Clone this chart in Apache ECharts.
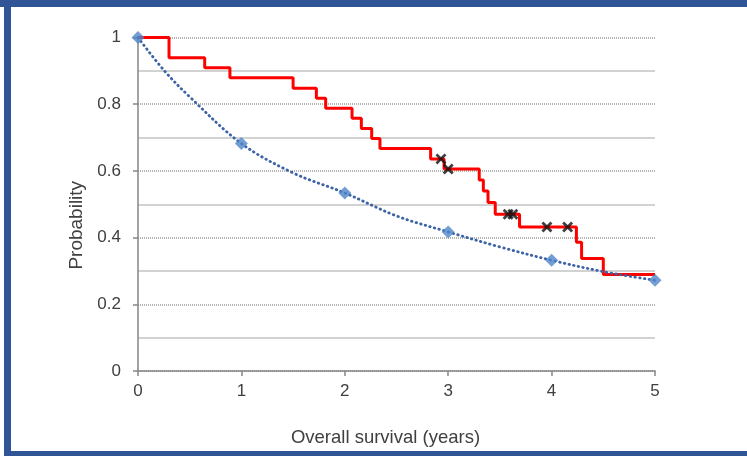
<!DOCTYPE html>
<html>
<head>
<meta charset="utf-8">
<script src="https://cdn.jsdelivr.net/npm/echarts@6/dist/echarts.min.js"></script>
<style>
  html, body { margin: 0; padding: 0; background: #ffffff; }
  #chart { width: 747px; height: 456px; }
</style>
</head>
<body>
<div id="chart"></div>
<script>
// Kaplan-Meier step curve (time in years, survival probability after each step)
const kmTimes = [0, 0.30, 0.645, 0.889, 1.50, 1.725, 1.815, 2.07, 2.16, 2.26, 2.34, 2.83, 2.96, 3.30, 3.34, 3.385, 3.455, 3.69, 4.24, 4.29, 4.50, 5.0];
const kmSurv  = [1.0, 0.939, 0.909, 0.879, 0.848, 0.818, 0.788, 0.758, 0.727, 0.697, 0.667, 0.636, 0.606, 0.573, 0.540, 0.505, 0.470, 0.432, 0.386, 0.337, 0.289, 0.289];

// Censored observations
const censorTimes = [2.93, 3.00, 3.58, 3.625, 3.955, 4.155];
const censorSurv  = [0.636, 0.606, 0.470, 0.470, 0.432, 0.432];

// Yearly estimates (diamonds)
const yearX = [0, 1, 2, 3, 4, 5];
const yearY = [1.0, 0.682, 0.534, 0.417, 0.332, 0.272];

// Dotted trend curve
const trendX = [0, 0.25, 0.5, 1, 1.5, 2, 2.5, 3, 3.5, 4, 4.5, 5];
const trendY = [1.0, 0.902, 0.822, 0.682, 0.594, 0.534, 0.465, 0.417, 0.372, 0.332, 0.298, 0.272];

// Tick labels
const xTicks = [0, 1, 2, 3, 4, 5];
const yTicks = [0, 0.2, 0.4, 0.6, 0.8, 1];

const pair = (xs, ys) => xs.map((x, i) => [x, ys[i]]);

const chart = echarts.init(document.getElementById('chart'), null, { renderer: 'canvas' });
const labelFont = 'Liberation Sans, Arial, sans-serif';

chart.setOption({
  backgroundColor: '#ffffff',
  animation: false,
  graphic: [
    { type: 'rect', shape: { x: 0, y: 0, width: 747, height: 7 }, style: { fill: '#2f5597' }, z: 100 },
    { type: 'rect', shape: { x: 4, y: 0, width: 7, height: 456 }, style: { fill: '#2f5597' }, z: 100 },
    { type: 'rect', shape: { x: 4, y: 451, width: 743, height: 5 }, style: { fill: '#2f5597' }, z: 100 }
  ],
  grid: { left: 138, right: 92, top: 37.5, bottom: 85, containLabel: false },
  xAxis: {
    type: 'value',
    min: xTicks[0],
    max: xTicks[xTicks.length - 1],
    interval: 1,
    name: 'Overall survival (years)',
    nameLocation: 'middle',
    nameGap: 57,
    nameTextStyle: { fontFamily: labelFont, fontSize: 18.5, color: '#404040', padding: [0, 22, 0, 0] },
    axisLine: { show: true, onZero: false, lineStyle: { color: '#868686', width: 1.5 } },
    axisTick: { show: true, inside: false, length: 5, lineStyle: { color: '#868686', width: 1.5 } },
    axisLabel: { fontFamily: labelFont, fontSize: 17, color: '#404040', margin: 12 },
    splitLine: { show: false }
  },
  yAxis: {
    type: 'value',
    min: yTicks[0],
    max: yTicks[yTicks.length - 1],
    interval: 0.2,
    name: 'Probability',
    nameLocation: 'middle',
    nameGap: 52,
    nameTextStyle: { fontFamily: labelFont, fontSize: 19, color: '#404040', padding: [0, 42, 0, 0] },
    axisLine: { show: true, onZero: false, lineStyle: { color: '#868686', width: 1.5 } },
    axisTick: { show: true, inside: false, length: 5, lineStyle: { color: '#868686', width: 1.5 } },
    axisLabel: { fontFamily: labelFont, fontSize: 17, color: '#404040', margin: 17 },
    splitLine: { show: true, lineStyle: { color: '#9a9a9a', width: 1.5, type: [1, 1] } },
    minorTick: { show: false, splitNumber: 2 },
    minorSplitLine: { show: true, lineStyle: { color: '#c4c4c4', width: 1.5 } }
  },
  series: [
    {
      type: 'line',
      name: 'KM',
      data: pair(kmTimes, kmSurv),
      step: 'end',
      showSymbol: false,
      symbol: 'none',
      lineStyle: { color: '#ff0000', width: 3 },
      z: 2
    },
    {
      type: 'line',
      name: 'Trend',
      data: pair(trendX, trendY),
      smooth: 0.35,
      showSymbol: false,
      symbol: 'none',
      lineStyle: { color: '#3c62a8', width: 2.8, type: [0.5, 4.3], cap: 'round' },
      z: 3
    },
    {
      type: 'scatter',
      name: 'Yearly',
      data: pair(yearX, yearY),
      symbol: 'diamond',
      symbolSize: 13,
      itemStyle: { color: '#4f86c9' },
      z: 4
    },
    {
      type: 'scatter',
      name: 'Censored',
      data: pair(censorTimes, censorSurv),
      symbol: 'path://M0,1.8L1.8,0L5,3.2L8.2,0L10,1.8L6.8,5L10,8.2L8.2,10L5,6.8L1.8,10L0,8.2L3.2,5Z',
      symbolSize: 11,
      itemStyle: { color: '#111111' },
      z: 5
    }
  ]
});
</script>
</body>
</html>
